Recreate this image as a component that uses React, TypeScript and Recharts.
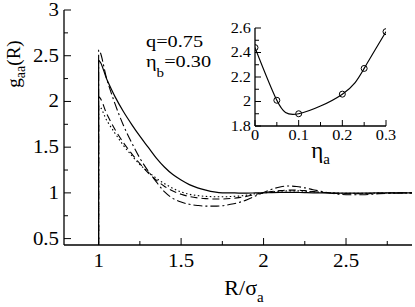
import { LineChart, Line, XAxis, YAxis, Label } from 'recharts'

const FONT = '"Liberation Serif", "DejaVu Serif", serif'
const STRETCH = 1.16

// pair distribution g_aa(R), q=0.75, eta_b=0.30, for several eta_a
const rGrid = [
  1.0, 1.05, 1.1, 1.15, 1.2, 1.25, 1.3, 1.35, 1.4, 1.45, 1.5, 1.55, 1.6, 1.65, 1.7, 1.75, 1.8,
  1.85, 1.9, 1.95, 2.0, 2.05, 2.1, 2.15, 2.2, 2.25, 2.3, 2.4, 2.5, 2.6, 2.7, 2.8, 2.9,
]
const gEta000 = [
  2.45, 2.24, 2.05, 1.89, 1.75, 1.62, 1.5, 1.38, 1.28, 1.2, 1.14, 1.09, 1.055, 1.03, 1.01, 1.0, 1.0,
  0.998, 0.998, 0.999, 1.0, 1.003, 1.005, 1.006, 1.005, 1.003, 1.001, 0.998, 0.997, 0.998, 0.999, 1.0, 1.0,
]
const gEta005 = [
  2.05, 1.86, 1.69, 1.55, 1.43, 1.32, 1.22, 1.14, 1.07, 1.02, 0.985, 0.96, 0.945, 0.937, 0.933, 0.933, 0.938,
  0.948, 0.963, 0.983, 1.0, 1.015, 1.025, 1.03, 1.03, 1.025, 1.015, 1.0, 0.99, 0.99, 0.995, 1.0, 1.0,
]
const gEta010 = [
  1.95, 1.79, 1.65, 1.52, 1.41, 1.31, 1.23, 1.16, 1.1, 1.05, 1.01, 0.985, 0.97, 0.962, 0.958, 0.957, 0.96,
  0.965, 0.975, 0.99, 1.0, 1.01, 1.018, 1.022, 1.022, 1.018, 1.012, 1.002, 0.995, 0.995, 0.998, 1.0, 1.0,
]
const gEta030 = [
  2.56, 2.24, 1.97, 1.74, 1.55, 1.38, 1.24, 1.12, 1.01, 0.94, 0.9, 0.875, 0.862, 0.855, 0.855, 0.86, 0.875,
  0.895, 0.925, 0.965, 1.005, 1.04, 1.065, 1.075, 1.07, 1.055, 1.035, 1.0, 0.98, 0.98, 0.99, 0.997, 1.0,
]
// g = 0 inside the hard core (R < sigma_a)
const coreR = [0.79, 1.0]

const xMajor = [1, 1.5, 2, 2.5]
const xMinor = [1.25, 1.75, 2.25, 2.75]
const yMajor = [0.5, 1, 1.5, 2, 2.5, 3]
const yMinor = [0.75, 1.25, 1.75, 2.25, 2.75]

// inset: contact value vs eta_a
const insetEta = [0, 0.05, 0.1, 0.2, 0.25, 0.3]
const insetContact = [2.44, 2.01, 1.9, 2.06, 2.27, 2.57]
const insetXMajor = [0, 0.1, 0.2, 0.3]
const insetXMinor = [0.05, 0.15, 0.25]
const insetYMajor = [1.8, 2, 2.2, 2.4, 2.6]
const insetYMinor = [1.9, 2.1, 2.3, 2.5]

function series(g: number[]) {
  return [...coreR.map((r) => ({ r, g: 0 })), ...rGrid.map((r, i) => ({ r, g: g[i] }))]
}

const insetData = insetEta.map((e, i) => ({ e, g: insetContact[i] }))

type Side = 'bottom' | 'top' | 'left' | 'right'

interface TickOpts {
  major: number
  minor: number
  fontSize: number
  gap: number // distance from axis to label baseline (bottom) or right edge (left)
  shift: number // vertical baseline shift for left labels
}

const txt = { fontFamily: FONT }

function makeTick(side: Side, majors: number[], o: TickOpts) {
  return (props: any) => {
    const { x, y, payload } = props
    const v = payload.value
    const isMajor = majors.some((m) => Math.abs(m - v) < 1e-9)
    const len = isMajor ? o.major : o.minor
    let x2 = x
    let y2 = y
    if (side === 'bottom') y2 = y - len
    if (side === 'top') y2 = y + len
    if (side === 'left') x2 = x + len
    if (side === 'right') x2 = x - len
    let label = null
    if (isMajor && (side === 'bottom' || side === 'left')) {
      const tx = side === 'bottom' ? x : x - o.gap
      const ty = side === 'bottom' ? y + o.gap : y + o.shift
      label = (
        <text
          transform={`translate(${tx},${ty}) scale(${STRETCH},1)`}
          textAnchor={side === 'bottom' ? 'middle' : 'end'}
          style={txt}
          fontSize={o.fontSize}
          fill="#000"
        >
          {String(v)}
        </text>
      )
    }
    return (
      <g>
        <line x1={x} y1={y} x2={x2} y2={y2} stroke="#000" strokeWidth={1} />
        {label}
      </g>
    )
  }
}

const mainOpts: TickOpts = { major: 7, minor: 4, fontSize: 18, gap: 22, shift: 6 }
const mainLeftOpts: TickOpts = { ...mainOpts, gap: 5 }
const insetOpts: TickOpts = { major: 6, minor: 4, fontSize: 14, gap: 14, shift: 4.8 }
const insetLeftOpts: TickOpts = { ...insetOpts, gap: 4 }

const frame = { stroke: '#000', strokeWidth: 1.3 }

export default function App() {
  const xTicks = [...xMajor, ...xMinor]
  const yTicks = [...yMajor, ...yMinor]
  const ixTicks = [...insetXMajor, ...insetXMinor]
  const iyTicks = [...insetYMajor, ...insetYMinor]

  return (
    <div style={{ position: 'absolute', left: 0, top: 0, width: 415, height: 307, background: '#fff', fontFamily: FONT }}>
      <LineChart width={415} height={307} margin={{ top: 10, right: 3, bottom: 0, left: 0 }}>
        <XAxis
          dataKey="r"
          type="number"
          domain={[0.79, 2.9]}
          allowDataOverflow
          ticks={xTicks}
          interval={0}
          tickSize={0}
          tickMargin={0}
          tickLine={false}
          tick={makeTick('bottom', xMajor, mainOpts)}
          axisLine={frame}
          height={62}
        >
          <Label
            content={(p: any) => {
              const vb = p.viewBox
              return (
                <text
                  transform={`translate(${vb.x + vb.width / 2 + 6},${vb.y + 50})`}
                  textAnchor="middle"
                  style={txt}
                  fontSize={22}
                  fill="#000"
                >
                  R/σ
                  <tspan fontSize={15} dy={7}>
                    a
                  </tspan>
                </text>
              )
            }}
          />
        </XAxis>
        <XAxis
          xAxisId="top"
          orientation="top"
          type="number"
          domain={[0.79, 2.9]}
          allowDataOverflow
          ticks={xTicks}
          interval={0}
          tickSize={0}
          tickMargin={0}
          tickLine={false}
          tick={makeTick('top', xMajor, mainOpts)}
          axisLine={frame}
          height={0}
        />
        <YAxis
          type="number"
          domain={[0.43, 3]}
          allowDataOverflow
          ticks={yTicks}
          interval={0}
          tickSize={0}
          tickMargin={0}
          tickLine={false}
          tick={makeTick('left', yMajor, mainLeftOpts)}
          axisLine={frame}
          width={64}
        >
          <Label
            content={(p: any) => {
              const vb = p.viewBox
              return (
                <text
                  transform={`translate(${vb.x + 20},${vb.y + 54}) rotate(-90)`}
                  textAnchor="middle"
                  style={txt}
                  fontSize={19}
                  fill="#000"
                >
                  g
                  <tspan fontSize={14} dy={5}>
                    aa
                  </tspan>
                  <tspan dy={-5}>(R)</tspan>
                </text>
              )
            }}
          />
        </YAxis>
        <YAxis
          yAxisId="right"
          orientation="right"
          type="number"
          domain={[0.43, 3]}
          allowDataOverflow
          ticks={yTicks}
          interval={0}
          tickSize={0}
          tickMargin={0}
          tickLine={false}
          tick={makeTick('right', yMajor, mainOpts)}
          axisLine={frame}
          width={0}
        />
        <Line
          data={series(gEta030)}
          dataKey="g"
          type="monotone"
          stroke="#000"
          strokeWidth={1.1}
          strokeDasharray="9 3 2 3"
          dot={false}
          isAnimationActive={false}
        />
        <Line
          data={series(gEta010)}
          dataKey="g"
          type="monotone"
          stroke="#000"
          strokeWidth={1.1}
          strokeDasharray="1.5 2.5"
          dot={false}
          isAnimationActive={false}
        />
        <Line
          data={series(gEta005)}
          dataKey="g"
          type="monotone"
          stroke="#000"
          strokeWidth={1.1}
          strokeDasharray="7 4"
          dot={false}
          isAnimationActive={false}
        />
        <Line
          data={series(gEta000)}
          dataKey="g"
          type="monotone"
          stroke="#000"
          strokeWidth={1.2}
          dot={false}
          isAnimationActive={false}
        />
      </LineChart>

      <svg
        width={415}
        height={307}
        style={{ position: 'absolute', left: 0, top: 0, pointerEvents: 'none' }}
      >
        <text transform={`translate(146,47) scale(${STRETCH},1)`} style={txt} fontSize={17.5}>
          q=0.75
        </text>
        <text transform={`translate(146,67) scale(${STRETCH},1)`} style={txt} fontSize={17.5}>
          η
          <tspan fontSize={13} dy={10}>
            b
          </tspan>
          <tspan dy={-10}>=0.30</tspan>
        </text>
      </svg>

      <div style={{ position: 'absolute', left: 205, top: 18 }}>
        <LineChart width={205} height={152} data={insetData} margin={{ top: 10, right: 24, bottom: 0, left: 0 }}>
          <XAxis
            dataKey="e"
            type="number"
            domain={[0, 0.3]}
            allowDataOverflow
            ticks={ixTicks}
            interval={0}
            tickSize={0}
            tickMargin={0}
            tickLine={false}
            tick={makeTick('bottom', insetXMajor, insetOpts)}
            axisLine={frame}
            height={44}
          >
            <Label
              content={(p: any) => {
                const vb = p.viewBox
                return (
                  <text
                    transform={`translate(${vb.x + vb.width / 2},${vb.y + 32})`}
                    textAnchor="middle"
                    style={txt}
                    fontSize={23}
                    fill="#000"
                  >
                    η
                    <tspan fontSize={15} dy={6}>
                      a
                    </tspan>
                  </text>
                )
              }}
            />
          </XAxis>
          <XAxis
            xAxisId="top"
            orientation="top"
            type="number"
            domain={[0, 0.3]}
            allowDataOverflow
            ticks={ixTicks}
            interval={0}
            tickSize={0}
            tickMargin={0}
            tickLine={false}
            tick={makeTick('top', insetXMajor, insetOpts)}
            axisLine={frame}
            height={0}
          />
          <YAxis
            type="number"
            domain={[1.8, 2.6]}
            allowDataOverflow
            ticks={iyTicks}
            interval={0}
            tickSize={0}
            tickMargin={0}
            tickLine={false}
            tick={makeTick('left', insetYMajor, insetLeftOpts)}
            axisLine={frame}
            width={50}
          />
          <YAxis
            yAxisId="right"
            orientation="right"
            type="number"
            domain={[1.8, 2.6]}
            allowDataOverflow
            ticks={iyTicks}
            interval={0}
            tickSize={0}
            tickMargin={0}
            tickLine={false}
            tick={makeTick('right', insetYMajor, insetOpts)}
            axisLine={frame}
            width={0}
          />
          <Line
            dataKey="g"
            type="natural"
            stroke="#000"
            strokeWidth={1.2}
            dot={{ r: 3, fill: 'none', stroke: '#000', strokeWidth: 1 }}
            isAnimationActive={false}
          />
        </LineChart>
      </div>
    </div>
  )
}
